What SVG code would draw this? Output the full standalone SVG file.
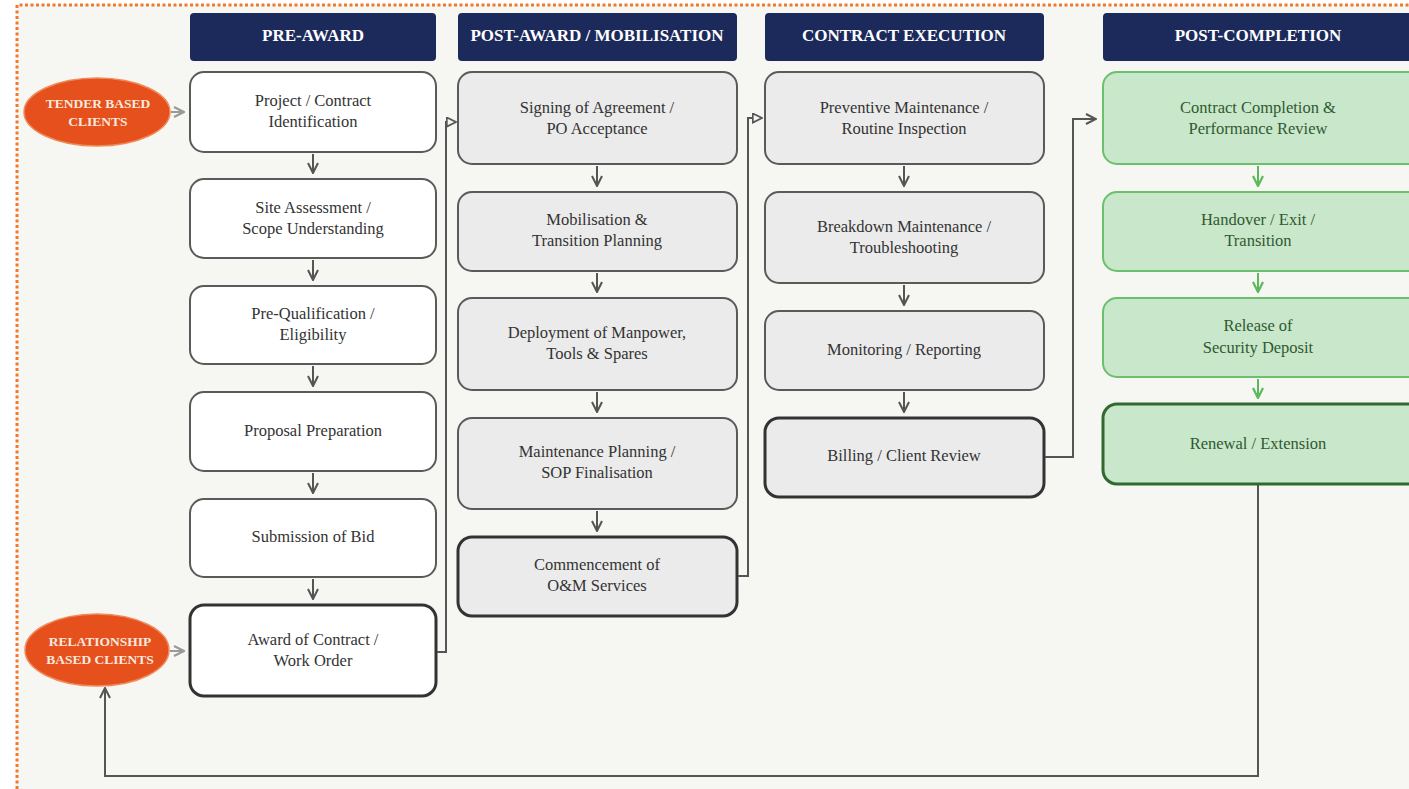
<svg xmlns="http://www.w3.org/2000/svg" width="1409" height="789" viewBox="0 0 1409 789">
<style>
.hdr{fill:#1c2a5b}
.ht{font-family:"Liberation Serif",serif;font-weight:bold;font-size:17px;fill:#fff;text-anchor:middle}
.bt{font-family:"Liberation Serif",serif;font-size:16.5px;fill:#333;text-anchor:middle}
.gt{font-family:"Liberation Serif",serif;font-size:16.5px;fill:#2f5a30;text-anchor:middle}
.et{font-family:"Liberation Serif",serif;font-weight:bold;font-size:13.5px;fill:#fbe9df;text-anchor:middle}
.w{fill:#fff;stroke:#5a5a5a;stroke-width:2}
.wk{fill:#fff;stroke:#333;stroke-width:3}
.g{fill:#ebebeb;stroke:#5a5a5a;stroke-width:2}
.gk{fill:#ebebeb;stroke:#333;stroke-width:3}
.gr{fill:#c9e7ca;stroke:#6cbf6c;stroke-width:2}
.grk{fill:#c9e7ca;stroke:#2f6a31;stroke-width:3}
.ell{fill:#e5501c;stroke:#f08a5a;stroke-width:1.5}
.c{fill:none;stroke:#555;stroke-width:2}
.cg{fill:none;stroke:#5cb85c;stroke-width:2}
.ce{fill:none;stroke:#999;stroke-width:2}
</style>
<defs>
<marker id="ahv" viewBox="0 0 12 12" refX="11" refY="6" markerWidth="12" markerHeight="12" orient="auto" markerUnits="userSpaceOnUse">
<path d="M1,1 L11,6 L1,11" fill="none" stroke="#555" stroke-width="2"/>
</marker>
<marker id="ahg" viewBox="0 0 12 12" refX="11" refY="6" markerWidth="12" markerHeight="12" orient="auto" markerUnits="userSpaceOnUse">
<path d="M1,1 L11,6 L1,11" fill="none" stroke="#5cb85c" stroke-width="2.2"/>
</marker>
<marker id="ahe" viewBox="0 0 12 12" refX="11" refY="6" markerWidth="12" markerHeight="12" orient="auto" markerUnits="userSpaceOnUse">
<path d="M1,1 L11,6 L1,11" fill="none" stroke="#999" stroke-width="2.2"/>
</marker>
<marker id="aht" viewBox="0 0 12 12" refX="11" refY="6" markerWidth="11" markerHeight="11" orient="auto" markerUnits="userSpaceOnUse">
<path d="M1,1 L11,6 L1,11 Z" fill="#f6f6f2" stroke="#555" stroke-width="1.8"/>
</marker>
</defs>
<rect width="1409" height="789" fill="#fff"/>
<rect x="17" y="5" width="1400" height="790" fill="#f6f6f2"/>
<path d="M17,789 L17,5 L1409,5" fill="none" stroke="#ef7a2a" stroke-width="3" stroke-dasharray="3,2.5"/>

<g id="headers">
<g id="h1"><rect class="hdr" x="190" y="13" width="246" height="48" rx="4"/><text class="ht" x="313" y="41">PRE-AWARD</text></g>
<g id="h2"><rect class="hdr" x="458" y="13" width="279" height="48" rx="4"/><text class="ht" x="597" y="41">POST-AWARD / MOBILISATION</text></g>
<g id="h3"><rect class="hdr" x="765" y="13" width="279" height="48" rx="4"/><text class="ht" x="904" y="41">CONTRACT EXECUTION</text></g>
<g id="h4"><rect class="hdr" x="1103" y="13" width="320" height="48" rx="4"/><text class="ht" x="1258" y="41">POST-COMPLETION</text></g>
</g>

<g id="tender"><ellipse class="ell" cx="97" cy="112" rx="73" ry="34"/><text class="et" x="98" y="108">TENDER BASED</text><text class="et" x="98" y="126">CLIENTS</text></g>
<g id="relationship"><ellipse class="ell" cx="97" cy="650" rx="72" ry="36"/><text class="et" x="100" y="646">RELATIONSHIP</text><text class="et" x="100" y="664">BASED CLIENTS</text></g>

<g id="n1"><rect class="w" x="190" y="72" width="246" height="80" rx="14"/><text class="bt" x="313" y="106">Project / Contract</text><text class="bt" x="313" y="127">Identification</text></g>
<g id="n2"><rect class="w" x="190" y="179" width="246" height="79" rx="14"/><text class="bt" x="313" y="213">Site Assessment /</text><text class="bt" x="313" y="234">Scope Understanding</text></g>
<g id="n3"><rect class="w" x="190" y="286" width="246" height="78" rx="14"/><text class="bt" x="313" y="319">Pre-Qualification /</text><text class="bt" x="313" y="340">Eligibility</text></g>
<g id="n4"><rect class="w" x="190" y="392" width="246" height="79" rx="14"/><text class="bt" x="313" y="436">Proposal Preparation</text></g>
<g id="n5"><rect class="w" x="190" y="499" width="246" height="78" rx="14"/><text class="bt" x="313" y="542">Submission of Bid</text></g>
<g id="n6"><rect class="wk" x="190" y="605" width="246" height="91" rx="14"/><text class="bt" x="313" y="645">Award of Contract /</text><text class="bt" x="313" y="666">Work Order</text></g>

<g id="m1"><rect class="g" x="458" y="72" width="279" height="92" rx="14"/><text class="bt" x="597" y="113">Signing of Agreement /</text><text class="bt" x="597" y="134">PO Acceptance</text></g>
<g id="m2"><rect class="g" x="458" y="192" width="279" height="79" rx="14"/><text class="bt" x="597" y="225">Mobilisation &amp;</text><text class="bt" x="597" y="246">Transition Planning</text></g>
<g id="m3"><rect class="g" x="458" y="298" width="279" height="92" rx="14"/><text class="bt" x="597" y="338">Deployment of Manpower,</text><text class="bt" x="597" y="359">Tools &amp; Spares</text></g>
<g id="m4"><rect class="g" x="458" y="418" width="279" height="91" rx="14"/><text class="bt" x="597" y="457">Maintenance Planning /</text><text class="bt" x="597" y="478">SOP Finalisation</text></g>
<g id="m5"><rect class="gk" x="458" y="537" width="279" height="79" rx="14"/><text class="bt" x="597" y="570">Commencement of</text><text class="bt" x="597" y="591">O&amp;M Services</text></g>

<g id="e1"><rect class="g" x="765" y="72" width="279" height="92" rx="14"/><text class="bt" x="904" y="113">Preventive Maintenance /</text><text class="bt" x="904" y="134">Routine Inspection</text></g>
<g id="e2"><rect class="g" x="765" y="192" width="279" height="91" rx="14"/><text class="bt" x="904" y="232">Breakdown Maintenance /</text><text class="bt" x="904" y="253">Troubleshooting</text></g>
<g id="e3"><rect class="g" x="765" y="311" width="279" height="79" rx="14"/><text class="bt" x="904" y="355">Monitoring / Reporting</text></g>
<g id="e4"><rect class="gk" x="765" y="418" width="279" height="79" rx="14"/><text class="bt" x="904" y="461">Billing / Client Review</text></g>

<g id="p1"><rect class="gr" x="1103" y="72" width="320" height="92" rx="14"/><text class="gt" x="1258" y="113">Contract Completion &amp;</text><text class="gt" x="1258" y="134">Performance Review</text></g>
<g id="p2"><rect class="gr" x="1103" y="192" width="320" height="79" rx="14"/><text class="gt" x="1258" y="225">Handover / Exit /</text><text class="gt" x="1258" y="246">Transition</text></g>
<g id="p3"><rect class="gr" x="1103" y="298" width="320" height="79" rx="14"/><text class="gt" x="1258" y="331">Release of</text><text class="gt" x="1258" y="353">Security Deposit</text></g>
<g id="p4"><rect class="grk" x="1103" y="404" width="320" height="80" rx="14"/><text class="gt" x="1258" y="449">Renewal / Extension</text></g>

<g id="connectors">
<path class="c" d="M313,154 V173" marker-end="url(#ahv)"/>
<path class="c" d="M313,260 V280" marker-end="url(#ahv)"/>
<path class="c" d="M313,366 V386" marker-end="url(#ahv)"/>
<path class="c" d="M313,473 V493" marker-end="url(#ahv)"/>
<path class="c" d="M313,579 V599" marker-end="url(#ahv)"/>
<path class="c" d="M597,166 V186" marker-end="url(#ahv)"/>
<path class="c" d="M597,273 V292" marker-end="url(#ahv)"/>
<path class="c" d="M597,392 V412" marker-end="url(#ahv)"/>
<path class="c" d="M597,511 V531" marker-end="url(#ahv)"/>
<path class="c" d="M904,166 V186" marker-end="url(#ahv)"/>
<path class="c" d="M904,285 V305" marker-end="url(#ahv)"/>
<path class="c" d="M904,392 V412" marker-end="url(#ahv)"/>
<path class="cg" d="M1258,166 V186" marker-end="url(#ahg)"/>
<path class="cg" d="M1258,273 V292" marker-end="url(#ahg)"/>
<path class="cg" d="M1258,379 V398" marker-end="url(#ahg)"/>
<path class="ce" d="M171,112 H184" marker-end="url(#ahe)"/>
<path class="ce" d="M170,651 H184" marker-end="url(#ahe)"/>
<path class="c" d="M437,652 H446 V122 H456" marker-end="url(#aht)"/>
<path class="c" d="M738,576 H748 V118 H762" marker-end="url(#aht)"/>
<path class="c" d="M1045,457 H1073 V119 H1096" marker-end="url(#ahv)"/>
<path class="c" d="M1258,485 V776 H105 V688" marker-end="url(#ahv)"/>
</g>
</svg>
